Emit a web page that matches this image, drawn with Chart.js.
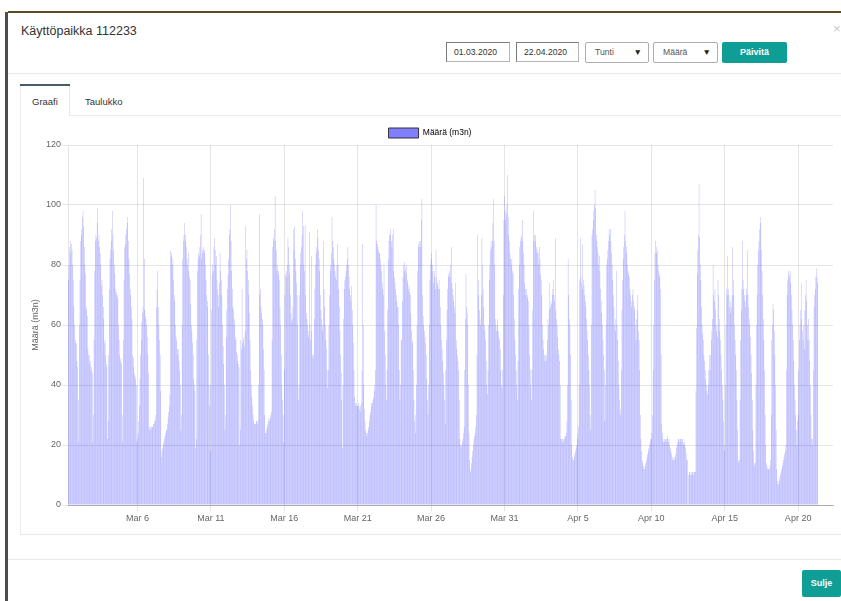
<!DOCTYPE html>
<html><head><meta charset="utf-8">
<script src="https://cdn.jsdelivr.net/npm/chart.js@4/dist/chart.umd.min.js"></script>
<style>
html,body{margin:0;padding:0;background:#fff;width:841px;height:601px;overflow:hidden;font-family:"Liberation Sans",Arial,sans-serif;}
.abs{position:absolute;}
.hline{height:1px;background:#e9e9e9;}
.inp{top:42px;height:20px;box-sizing:border-box;border:1px solid #b5b5b5;border-top-color:#7a7a7a;border-left-color:#7a7a7a;font-size:8.6px;color:#333;line-height:18px;padding-left:7px;}
.sel{top:42px;height:21px;box-sizing:border-box;border:1px solid #adadad;border-radius:2px;font-size:8.6px;color:#555;line-height:19px;padding-left:9px;}
.arrow{position:absolute;right:6px;top:0;font-size:8.5px;color:#222;}
.btn{background:#0f9e96;color:#fff;font-weight:bold;font-size:9px;text-align:center;border-radius:2px;}
.tab{font-size:9.5px;color:#333;}
</style></head>
<body>
<div class="abs" style="left:5px;top:12px;width:3px;height:589px;background:#4d4d4d;"></div>
<div class="abs" style="left:8px;top:11px;width:833px;height:2px;background:#5d4b1f;"></div>
<div class="abs" style="left:21px;top:24px;font-size:12.5px;color:#333;">Käyttöpaikka 112233</div>
<div class="abs" style="left:833px;top:21px;font-size:13px;color:#c8c8c8;">×</div>
<div class="abs inp" style="left:446px;width:64px;">01.03.2020</div>
<div class="abs inp" style="left:516px;width:63px;">22.04.2020</div>
<div class="abs sel" style="left:585px;width:64px;">Tunti<span class="arrow">▼</span></div>
<div class="abs sel" style="left:653px;width:65px;">Määrä<span class="arrow">▼</span></div>
<div class="abs btn" style="left:722px;top:42px;width:65px;height:21px;line-height:21px;">Päivitä</div>
<div class="abs hline" style="left:8px;top:73px;width:833px;"></div>
<div class="abs" style="left:20px;top:84px;width:50px;height:2px;background:#4b5a68;"></div>
<div class="abs" style="left:20px;top:86px;width:1px;height:448px;background:#ececec;"></div>
<div class="abs" style="left:69px;top:86px;width:1px;height:30px;background:#e6e6e6;"></div>
<div class="abs hline" style="left:69px;top:115px;width:772px;"></div>
<div class="abs tab" style="left:32px;top:96px;">Graafi</div>
<div class="abs tab" style="left:85px;top:96px;">Taulukko</div>
<canvas id="c" width="821" height="410" style="position:absolute;left:20px;top:122px;width:821px;height:410px;"></canvas>
<div class="abs hline" style="left:20px;top:534px;width:821px;"></div>
<div class="abs hline" style="left:8px;top:559px;width:833px;"></div>
<div class="abs btn" style="left:802px;top:570px;width:39px;height:27px;line-height:27px;">Sulje</div>
<script>
// Hourly values (m3n), first value = 1 Mar 2020 07:00, one value per hour
const week1 = [ // Mar 1 07:00 - Mar 7
 75,80,86,88,84,87,85,80,75,66,60,54,55,54,48,46,21,
 35,60,75,88,90,92,96,98,93,86,80,77,66,65,63,52,50,50,47,48,45,46,44,21,
 30,55,78,88,90,89,94,99,88,90,86,84,80,73,75,70,66,62,54,55,50,47,46,22,
 28,50,72,82,85,88,92,98,90,85,80,77,72,70,71,69,70,60,55,50,48,49,47,21,
 30,55,75,86,87,90,92,94,96,88,82,77,72,70,66,62,50,49,46,44,43,42,40,21,
 22,24,28,33,42,50,55,61,64,66,109,82,65,63,62,60,56,50,44,26,25,26,25,26,
 26,26,27,27,28,28,30,66,72,78,66,60,55,50,38,16,18,19,20,21,22,23,24,25];
const week2 = [ // Mar 8 - Mar 14
 25,27,29,31,33,37,85,83,84,80,82,75,70,68,60,56,55,52,50,52,48,45,40,25,
 30,60,82,88,90,94,88,90,86,82,80,84,78,76,75,67,60,58,54,50,42,40,38,19,
 22,55,78,82,84,83,86,90,97,82,85,84,86,84,85,80,75,70,68,66,50,40,33,18,
 40,65,77,80,78,86,89,85,80,83,75,72,66,70,74,84,78,75,70,60,53,47,40,25,
 30,56,65,72,77,82,90,92,100,88,78,72,66,65,60,62,56,55,51,50,48,47,46,20,
 25,55,52,72,54,55,56,53,58,93,82,85,78,75,70,64,55,45,40,36,33,30,28,27,
 27,27,28,28,27,28,40,97,70,72,66,64,62,60,52,45,30,24,24,25,26,27,28,29];
const week3 = [ // Mar 15 - Mar 21
 28,29,30,31,55,86,89,88,92,103,88,85,78,80,78,77,75,66,60,50,40,35,30,21,
 45,70,77,78,76,80,89,86,80,77,70,64,61,62,66,92,85,93,82,78,74,70,60,35,
 40,70,80,84,86,90,98,93,80,78,93,70,64,62,60,58,56,91,60,55,83,58,50,49,
 50,62,72,80,84,86,92,89,85,82,78,70,65,62,60,58,88,72,66,60,55,52,45,39,
 45,60,70,78,80,84,96,88,86,82,80,78,76,75,80,87,80,72,66,58,50,44,35,19,
 40,62,72,75,76,78,80,82,86,80,76,72,70,68,73,65,60,54,45,36,34,33,34,33,
 33,34,33,32,31,33,34,45,87,60,40,32,28,25,24,23,24,25,26,28,30,31,33,34];
const week4 = [ // Mar 22 - Mar 28
 34,35,36,38,40,45,100,88,87,86,85,84,84,82,80,78,74,72,70,80,58,50,40,35,
 45,65,82,88,90,90,92,88,86,90,92,78,76,74,72,70,68,66,66,60,45,35,40,55,
 55,68,76,80,78,81,79,77,80,75,74,72,73,71,70,64,58,55,54,45,35,28,24,30,
 40,60,78,86,87,88,86,88,95,102,70,63,60,58,56,54,50,42,35,30,40,60,75,80,
 82,84,80,78,74,76,78,72,85,76,74,73,72,75,72,66,60,55,52,48,44,40,35,27,
 45,55,65,72,76,77,78,76,80,86,74,72,70,68,66,64,74,55,52,50,48,45,35,22,
 20,19,20,21,22,24,26,45,62,77,66,64,60,40,24,15,11,12,14,16,18,20,22,23];
const week5 = [ // Mar 29 - Apr 4
 24,26,30,50,90,75,70,65,62,60,70,89,80,72,66,60,58,55,48,40,37,45,60,75,
 80,85,88,86,88,94,102,88,80,62,60,58,60,62,58,56,55,52,45,40,39,45,70,95,
 103,98,95,97,100,110,96,90,88,84,82,80,82,78,77,70,62,55,50,45,40,35,48,72,
 80,86,88,89,90,95,88,84,80,74,72,70,72,70,69,68,60,50,45,40,35,45,65,98,
 88,90,88,90,86,84,85,84,80,86,82,77,75,70,60,55,52,50,48,50,48,50,55,62,
 60,74,65,66,68,67,70,72,75,70,68,89,65,62,60,56,52,50,48,40,22,22,21,22,
 21,22,22,23,23,24,28,40,82,70,62,60,50,35,20,16,15,15,16,17,18,19,20,22];
const week6 = [ // Apr 5 - Apr 11
 24,26,40,75,89,76,74,87,72,75,73,70,68,66,62,58,55,50,45,40,30,25,60,90,
 92,95,98,100,105,99,90,88,86,84,80,83,78,72,68,64,60,55,50,45,28,40,60,80,
 82,85,88,92,90,92,88,84,80,75,70,66,60,58,62,78,60,55,48,40,35,32,30,45,
 65,75,82,86,90,98,88,86,84,80,78,77,76,72,70,68,66,70,72,68,66,65,60,55,
 62,65,70,58,55,45,30,22,18,15,14,13,12,12,13,14,15,16,17,18,19,20,21,22,
 22,24,30,45,60,75,84,88,86,84,85,80,78,76,77,72,50,27,24,22,21,22,21,22,
 21,22,23,22,21,22,20,19,18,17,16,15,15,16,15,16,17,19,20,21,22,22,21,22];
const week7 = [ // Apr 12 - Apr 18
 22,21,22,22,21,20,21,20,19,17,15,15,0,10,11,11,10,11,10,11,11,10,11,11,
 11,38,59,77,85,90,107,89,80,75,66,60,57,55,50,48,45,42,40,38,37,40,45,50,
 45,50,55,58,62,80,70,68,72,65,60,58,56,75,70,62,58,55,50,45,40,35,28,20,
 18,40,60,72,70,83,72,70,66,64,68,66,70,86,75,70,60,55,50,45,35,25,15,14,
 15,35,55,65,72,88,75,72,70,68,66,70,72,85,70,66,62,60,56,50,44,35,25,18,
 14,13,14,40,60,70,80,85,88,92,96,94,85,78,70,62,55,45,30,20,14,13,12,12,
 12,12,13,15,30,55,60,67,65,58,50,40,25,12,8,7,7,8,9,10,11,12,13,14];
const week8 = [ // Apr 19 - Apr 21 08:00
 15,16,17,18,20,45,70,75,78,77,76,78,74,70,65,60,55,48,40,35,30,25,20,28,
 30,45,55,60,65,74,62,58,55,60,52,65,70,75,68,60,55,62,55,48,40,30,22,20,
 22,45,66,70,72,76,79,76,74];

const firstHour = 7; // hours after 1 Mar 2020 00:00
const tickLabels = ['Mar 6','Mar 11','Mar 16','Mar 21','Mar 26','Mar 31','Apr 5','Apr 10','Apr 15','Apr 20'];
const tickDays = [5,10,15,20,25,30,35,40,45,50];
const yTicks = [0,20,40,60,80,100,120];

const values = [].concat(week1, week2, week3, week4, week5, week6, week7, week8);
const points = values.map((v, i) => ({x: firstHour + i, y: v}));
const tickHours = tickDays.map(d => d * 24);

Chart.defaults.font.family = '"Liberation Sans", Arial, sans-serif';

const legendHeight = {
  id: 'legendHeight',
  beforeInit(chart) {
    const lg = chart.legend;
    if (!lg) return;
    const orig = lg.fit;
    lg.fit = function() { orig.call(this); this.height = 23; };
  }
};

new Chart(document.getElementById('c'), {
  type: 'bar',
  data: { datasets: [{
    label: 'Määrä (m3n)',
    data: points,
    backgroundColor: 'rgba(0,0,255,0.32)',
    borderWidth: 0,
    barPercentage: 0.9,
    categoryPercentage: 0.8
  }]},
  options: {
    responsive: false, animation: false, devicePixelRatio: 1,
    layout: {padding: {left: 7, right: 8, top: 0, bottom: 0}},
    plugins: {
      tooltip: {enabled: false},
      legend: {
        position: 'top',
        labels: {
          boxWidth: 30, boxHeight: 10, padding: 6, color: '#666', font: {size: 8.5},
          generateLabels() {
            return [{text: 'Määrä (m3n)', fillStyle: 'rgba(0,0,255,0.5)', strokeStyle: '#333', lineWidth: 1, datasetIndex: 0, hidden: false}];
          }
        }
      }
    },
    scales: {
      x: {
        type: 'linear', min: 6.4, max: 1257, offset: false,
        grid: {offset: false, color: 'rgba(0,0,0,0.1)', tickLength: 6},
        border: {color: 'rgba(0,0,0,0.25)'},
        afterBuildTicks: s => { s.ticks = tickHours.map(v => ({value: v})); },
        afterFit: s => { s.height = 27; },
        ticks: {autoSkip: false, maxRotation: 0, color: '#666', font: {size: 9}, padding: 2,
          callback: v => tickLabels[tickHours.indexOf(v)]}
      },
      y: {
        min: 0, max: 120,
        afterBuildTicks: s => { s.ticks = yTicks.map(v => ({value: v})); },
        afterFit: s => { s.width = 41; },
        grid: {color: 'rgba(0,0,0,0.1)', tickLength: 6},
        border: {color: 'rgba(0,0,0,0.1)'},
        ticks: {color: '#666', font: {size: 9}, padding: 1},
        title: {display: true, text: 'Määrä (m3n)', color: '#666', font: {size: 9}, padding: {top: 3, bottom: 0}}
      }
    }
  },
  plugins: [legendHeight]
});
</script>
</body></html>
